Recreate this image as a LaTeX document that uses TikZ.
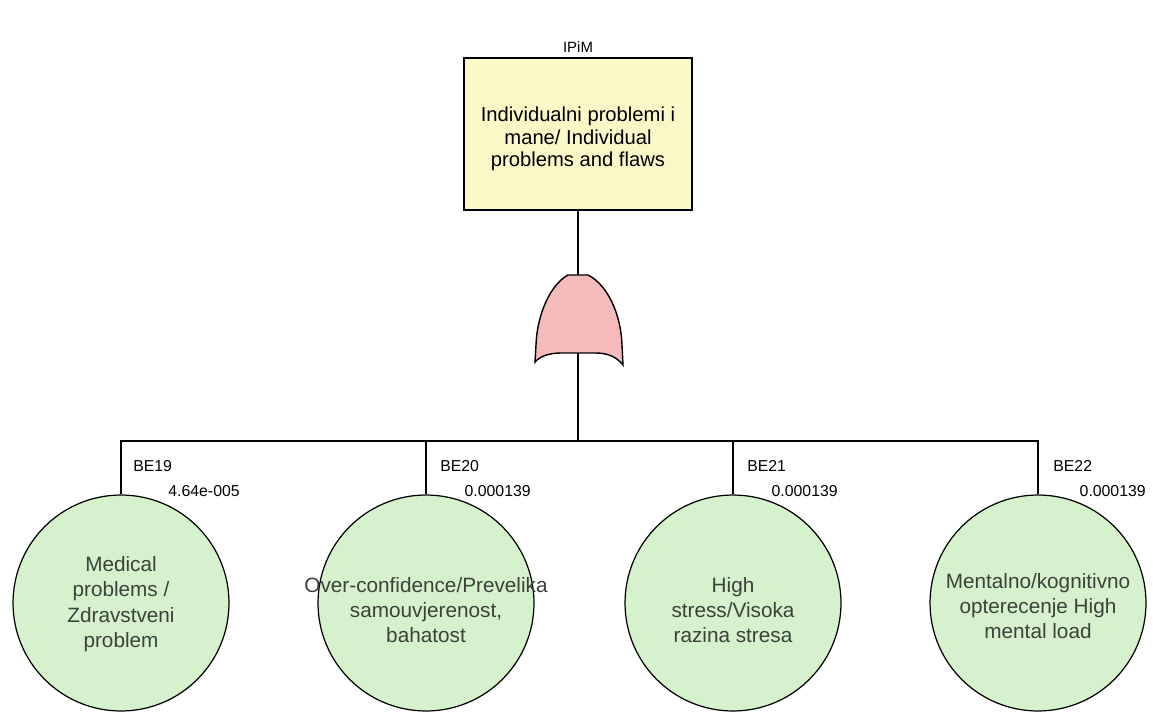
\documentclass[tikz,border=0pt]{standalone}
\usepackage{fontspec}
\setmainfont{Liberation Sans}
\definecolor{boxfill}{HTML}{FBF8C8}
\definecolor{circfill}{HTML}{D6F2CC}
\definecolor{gatefill}{HTML}{F5BBBB}
\definecolor{circtext}{HTML}{3A423A}
\begin{document}
\begin{tikzpicture}[x=0.02cm,y=-0.02cm,
  topbox/.style={draw, line width=0.9pt, fill=boxfill, minimum width=4.56cm, minimum height=3.04cm},
  boxtext/.style={align=center, inner sep=0pt, font=\fontsize{11.5}{12.8}\selectfont},
  basic/.style={circle, draw, line width=0.7pt, fill=circfill, minimum size=4.32cm, inner sep=0pt},
  basictext/.style={align=center, inner sep=0pt, text=circtext, font=\fontsize{11.8}{14.4}\selectfont},
  conn/.style={line width=0.9pt},
  idlbl/.style={font=\fontsize{9}{10}\selectfont, anchor=west, inner sep=0pt},
  prlbl/.style={font=\fontsize{9}{10}\selectfont, anchor=east, inner sep=0pt}]
\useasboundingbox (0,0) rectangle (1166,713);
\node[font=\fontsize{8.5}{10}\selectfont] (ipim) at (578,47) {IPiM};
\node[topbox] (top) at (578,134) {};
\node[boxtext] (toptext) at (578,139) {Individualni problemi i\\mane/ Individual\\problems and flaws};
% OR gate
\coordinate (gtop) at (578,275);
\coordinate (gbot) at (578,353);
\coordinate (bus) at (578,441);
\filldraw[fill=gatefill, line width=0.8pt]
  (568,275) -- (588,275)
  .. controls (608,285) and (621,315) .. (622,345)
  -- (623,365)
  .. controls (615,355) and (605,353) .. (595,353)
  -- (561,353)
  .. controls (550,353) and (540,356) .. (535,362)
  -- (536,345)
  .. controls (537,315) and (550,285) .. (568,275) -- cycle;
\draw[conn] (top.south) -- (gtop);
\draw[conn] (gbot) -- (bus);
% basic events
\node[basic] (c1) at (121,603) {};
\node[basic] (c2) at (426,603) {};
\node[basic] (c3) at (733,603) {};
\node[basic] (c4) at (1038,603) {};
\node[basictext] (t1) at (121,604) {Medical\\problems /\\Zdravstveni\\problem};
\node[basictext] (t2) at (426,610) {Over-confidence/Prevelika\\samouvjerenost,\\bahatost};
\node[basictext] (t3) at (733,610) {High\\stress/Visoka\\razina stresa};
\node[basictext] (t4) at (1038,606) {Mentalno/kognitivno\\opterecenje High\\mental load};
\draw[conn] (bus) -| (c1.north);
\draw[conn] (bus) -| (c2.north);
\draw[conn] (bus) -| (c3.north);
\draw[conn] (bus) -| (c4.north);
\node[idlbl] (id1) at (133,466) {BE19};
\node[prlbl] (p1) at (240,491) {4.64e-005};
\node[idlbl] (id2) at (440,466) {BE20};
\node[prlbl] (p2) at (531,491) {0.000139};
\node[idlbl] (id3) at (747,466) {BE21};
\node[prlbl] (p3) at (838,491) {0.000139};
\node[idlbl] (id4) at (1053,466) {BE22};
\node[prlbl] (p4) at (1146,491) {0.000139};
\end{tikzpicture}
\end{document}
